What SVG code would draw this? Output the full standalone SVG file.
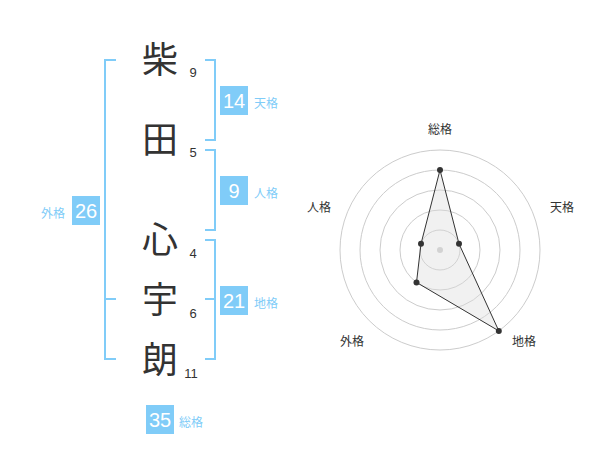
<svg xmlns="http://www.w3.org/2000/svg" width="600" height="470" viewBox="0 0 600 470">
<style>
.kanji{font-family:"Noto Sans CJK JP","Noto Sans CJK SC",sans-serif;font-size:36px;fill:#333;text-anchor:middle}
.num{font-family:"Liberation Sans",Arial,sans-serif;font-size:13px;fill:#333;text-anchor:middle}
.br{fill:none;stroke:#80ccf8;stroke-width:2}
.box{fill:#80ccf8}
.bnum{font-family:"Liberation Sans",Arial,sans-serif;font-size:20px;fill:#fff;text-anchor:middle}
.lab{font-family:"Noto Sans CJK JP","Noto Sans CJK SC",sans-serif;font-size:12px;fill:#80ccf8}
.ring{fill:none;stroke:#ccc;stroke-width:1}
.rlab{font-family:"Noto Sans CJK JP","Noto Sans CJK SC",sans-serif;font-size:12px;fill:#333;text-anchor:middle}
</style>
<rect width="600" height="470" fill="#fff"/>
<g id="chars">
<text class="kanji" x="160" y="73">柴</text>
<text class="kanji" x="160" y="153">田</text>
<text class="kanji" x="160" y="253">心</text>
<text class="kanji" x="160" y="313">宇</text>
<text class="kanji" x="160" y="373">朗</text>
<text class="num" x="193" y="77">9</text>
<text class="num" x="193" y="157">5</text>
<text class="num" x="193" y="258">4</text>
<text class="num" x="193" y="318">6</text>
<text class="num" x="191" y="378">11</text>
</g>
<g id="connectors">
<path class="br" d="M116,60 H105 V359 H116 M105,299 H116"/>
<path class="br" d="M205,60 H215 V140 H205"/>
<path class="br" d="M205,150 H215 V230 H205"/>
<path class="br" d="M205,240 H215 V359 H205 M205,299 H215"/>
</g>
<g id="tenkaku">
<rect class="box" x="220" y="86" width="28" height="29"/>
<text class="bnum" x="234" y="108">14</text>
<text class="lab" x="254" y="108">天格</text>
</g>
<g id="jinkaku">
<rect class="box" x="220" y="176" width="28" height="29"/>
<text class="bnum" x="234" y="198">9</text>
<text class="lab" x="254" y="198">人格</text>
</g>
<g id="chikaku">
<rect class="box" x="220" y="286" width="28" height="29"/>
<text class="bnum" x="234" y="308">21</text>
<text class="lab" x="254" y="308">地格</text>
</g>
<g id="gaikaku">
<rect class="box" x="72" y="196" width="28" height="29"/>
<text class="bnum" x="86" y="218">26</text>
<text class="lab" x="41" y="218">外格</text>
</g>
<g id="soukaku">
<rect class="box" x="146" y="405" width="28" height="29"/>
<text class="bnum" x="160" y="427">35</text>
<text class="lab" x="179" y="427">総格</text>
</g>
<g id="radar">
<circle class="ring" cx="440" cy="250" r="20"/>
<circle class="ring" cx="440" cy="250" r="40"/>
<circle class="ring" cx="440" cy="250" r="60"/>
<circle class="ring" cx="440" cy="250" r="80"/>
<circle class="ring" cx="440" cy="250" r="100"/>
<circle cx="440" cy="250" r="3" fill="#ccc"/>
<polygon points="440,170 459,243.8 498.8,330.9 416.5,282.4 421,243.8" fill="#ddd" fill-opacity="0.4" stroke="#333" stroke-width="1"/>
<g fill="#333">
<circle cx="440" cy="170" r="3"/>
<circle cx="459" cy="243.8" r="3"/>
<circle cx="498.8" cy="330.9" r="3"/>
<circle cx="416.5" cy="282.4" r="3"/>
<circle cx="421" cy="243.8" r="3"/>
</g>
<text class="rlab" x="440" y="134">総格</text>
<text class="rlab" x="562" y="212">天格</text>
<text class="rlab" x="524" y="346">地格</text>
<text class="rlab" x="352" y="346">外格</text>
<text class="rlab" x="319" y="212">人格</text>
</g>
</svg>
